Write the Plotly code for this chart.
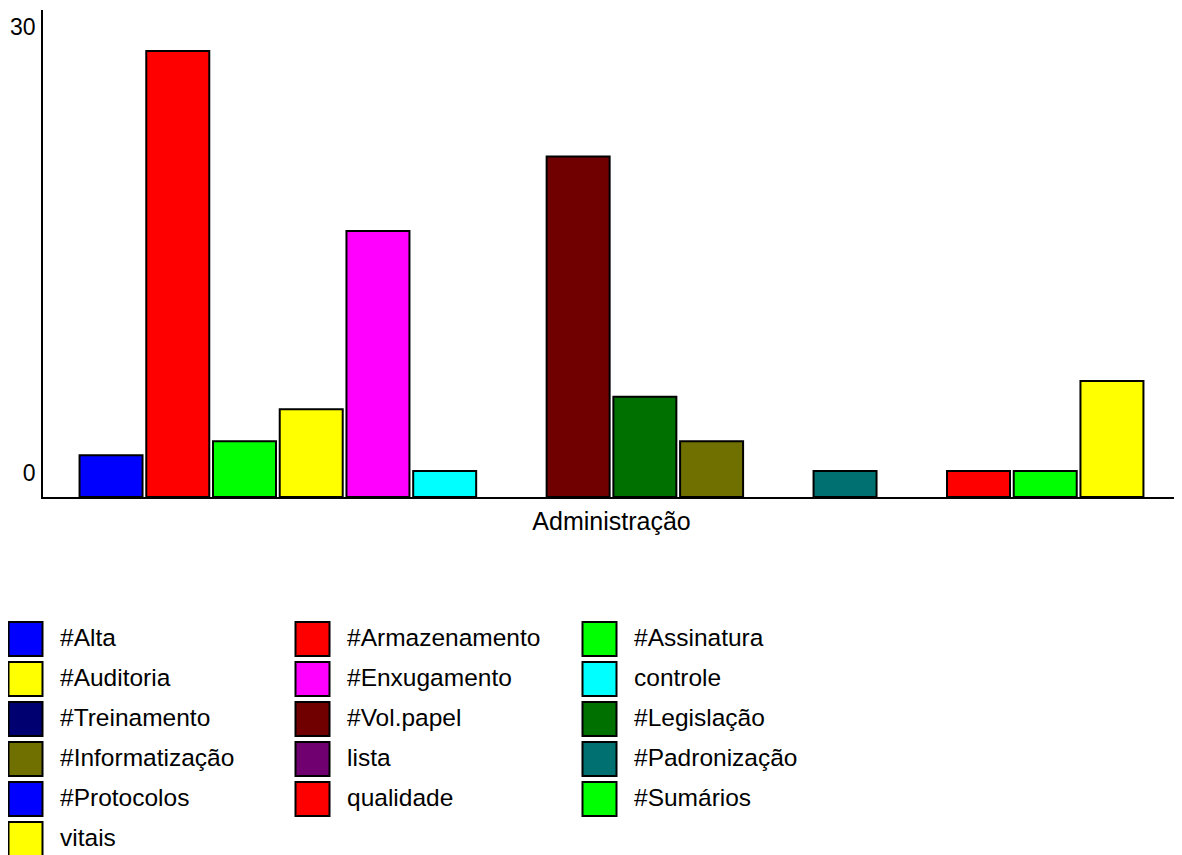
import plotly.graph_objects as go

# ---- data ----
category = ["Administração"]
series_names = ["#Alta", "#Armazenamento", "#Assinatura", "#Auditoria", "#Enxugamento",
                "controle", "#Treinamento", "#Vol.papel", "#Legislação", "#Informatização",
                "lista", "#Padronização", "#Protocolos", "qualidade", "#Sumários", "vitais"]
series_values = [2.8, 30, 3.75, 5.9, 17.9,
                 1.75, 0, 22.9, 6.75, 3.75,
                 0, 1.75, 0, 1.75, 1.75, 7.8]
series_colors = ["#0000FF", "#FF0000", "#00FF00", "#FFFF00", "#FF00FF",
                 "#00FFFF", "#000070", "#700000", "#007000", "#707000",
                 "#700070", "#007070", "#0000FF", "#FF0000", "#00FF00", "#FFFF00"]
y_tick_vals = [0, 30]
y_tick_text = ["0", "30"]

# ---- layout constants (page body has an 8px margin) ----
OFF = 8
W, H = 1182 - OFF, 855 - OFF
ML, MR, MT, MB = 43 - OFF, 2, 10 - OFF, 358
PW, PH = W - ML - MR, H - MT - MB
FONT = "Liberation Sans, Arial, sans-serif"
FS = 24.5

def px_x(x):
    # screen pixel -> paper x
    return (x - OFF - ML) / PW

def px_y(y):
    # screen pixel -> paper y
    return (H - MB - (y - OFF)) / PH

fig = go.Figure()
for name, val, col in zip(series_names, series_values, series_colors):
    fig.add_trace(go.Bar(
        x=category, y=[val], name=name,
        marker=dict(color=col, line=dict(color="#000000", width=2 if val > 0 else 0)),
        showlegend=False,
    ))

# manual legend (large swatches)
shapes = []
annotations = []
for i, (name, col) in enumerate(zip(series_names, series_colors)):
    r, c = divmod(i, 3)
    x0 = 8.5 + c * 287
    y0 = 622 + r * 40
    shapes.append(dict(type="rect", xref="paper", yref="paper",
                       x0=px_x(x0), x1=px_x(x0 + 34), y0=px_y(y0), y1=px_y(y0 + 34),
                       fillcolor=col, line=dict(color="#000000", width=2)))
    annotations.append(dict(text=name, xref="paper", yref="paper",
                            x=px_x(x0 + 49), y=px_y(y0 + 15),
                            xanchor="left", yanchor="middle", showarrow=False,
                            font=dict(family=FONT, size=FS, color="#000000")))

fig.update_layout(
    width=W, height=H,
    margin=dict(l=ML, r=MR, t=MT, b=MB, pad=0, autoexpand=False),
    paper_bgcolor="white", plot_bgcolor="white",
    barmode="group", bargap=0.061, bargroupgap=0.056,
    font=dict(family=FONT, size=FS, color="#000000"),
    shapes=shapes, annotations=annotations,
    showlegend=False,
)
fig.update_xaxes(showline=True, linecolor="#000000", linewidth=1.5, showgrid=False,
                 ticks="", zeroline=False, tickfont=dict(size=25), ticklabelstandoff=1,
                 automargin=False)
fig.update_yaxes(range=[0, 30 * PH / 446], showline=True, linecolor="#000000", linewidth=1.5,
                 showgrid=False, zeroline=False, ticks="",
                 tickvals=y_tick_vals, ticktext=y_tick_text,
                 tickfont=dict(size=23), ticklabelshift=-24, ticklabelstandoff=1,
                 automargin=False)

fig.write_html("out.html")
